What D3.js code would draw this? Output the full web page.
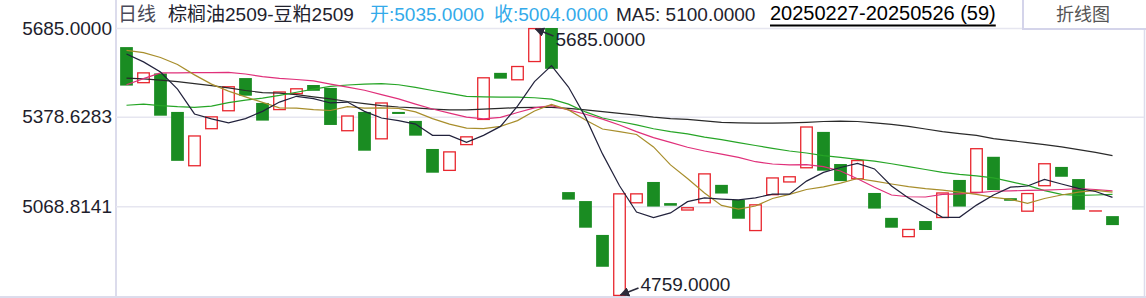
<!DOCTYPE html>
<html>
<head>
<meta charset="utf-8">
<script src="https://cdn.jsdelivr.net/npm/d3@7"></script>
<style>
  body { margin: 0; background: #fff; }
  svg { display: block; font-family: 'Liberation Sans', Arial, 'Noto Sans CJK SC', sans-serif; }
</style>
</head>
<body>
<svg id="chart" width="1146" height="298"></svg>
<script>
// daily candles, 20250227-20250526 (59 bars), body only (open / close)
const opens = [5619,5494,5528,5395,5207,5335,5397,5512,5426,5401,
  5456,5488,5478,5328,5395,5300,5395,5364,5267,5191,
  5280,5367,5530,5504,5567,5685,5118,5087,4970,4759,
  5079,5153,5080,5054,5079,5143,5091,4983,5107,5151,
  5200,5326,5215,5162,5115,5029,4962,5018,5028,5160,
  5115,5240,5097,5050,5138,5205,5163,5055,5035];
const closes = [5486,5532,5382,5226,5314,5380,5484,5451,5365,5466,
  5477,5468,5350,5383,5261,5428,5388,5313,5185,5259,
  5311,5515,5510,5554,5685,5544,5092,4995,4860,5114,
  5114,5068,5071,5066,5183,5113,5026,5076,5169,5173,
  5345,5192,5156,5229,5061,4995,4991,4987,5117,5068,
  5270,5125,5088,5115,5218,5171,5057,5055,5004];

// moving averages
const ma5 = [5595,5568,5533,5474,5388,5371,5357,5372,5397,5429,
  5449,5441,5426,5429,5397,5374,5365,5353,5314,5314,
  5290,5314,5345,5415,5500,5555,5481,5377,5250,5140,
  5049,5030,5046,5085,5098,5094,5091,5098,5111,5111,
  5156,5186,5203,5217,5198,5139,5098,5065,5031,5031,
  5073,5108,5135,5139,5162,5146,5131,5120,5100];
const ma10 = [5608,5600,5583,5559,5523,5491,5467,5447,5428,5409,
  5408,5403,5400,5413,5408,5409,5407,5395,5372,5353,
  5339,5337,5345,5365,5398,5421,5402,5367,5336,5327,
  5317,5274,5212,5165,5115,5072,5059,5070,5096,5110,
  5127,5136,5149,5165,5156,5146,5137,5130,5125,5118,
  5110,5100,5093,5079,5096,5108,5118,5124,5118];
const ma20 = [5489,5510,5530,5530,5531,5531,5532,5526,5517,5511,
  5507,5502,5491,5481,5470,5455,5440,5422,5405,5391,
  5377,5371,5376,5393,5409,5417,5402,5387,5370,5350,
  5327,5306,5290,5273,5260,5249,5238,5223,5215,5212,
  5213,5206,5191,5164,5135,5108,5102,5101,5110,5112,
  5115,5121,5122,5124,5125,5127,5130,5127,5122];
const ma30 = [5418,5422,5417,5413,5411,5415,5427,5436,5443,5452,
  5463,5474,5483,5488,5491,5493,5489,5480,5469,5459,
  5449,5447,5446,5446,5444,5439,5422,5395,5374,5362,
  5350,5337,5327,5319,5308,5299,5289,5279,5269,5260,
  5253,5244,5238,5231,5225,5216,5206,5196,5186,5179,
  5174,5167,5154,5141,5123,5110,5107,5108,5110];
const ma60 = [5512,5509,5505,5500,5493,5486,5478,5469,5462,5460,
  5455,5447,5440,5431,5424,5417,5412,5409,5405,5402,
  5402,5405,5407,5410,5411,5411,5407,5402,5396,5390,
  5384,5377,5372,5369,5364,5359,5357,5356,5356,5357,
  5359,5362,5363,5362,5357,5352,5345,5336,5327,5320,
  5314,5303,5296,5289,5282,5274,5265,5255,5244];

const yTicks = [5685, 5378.6283, 5068.8141];
const headerTitle = '棕榈油2509-豆粕2509';
const headerOpen = '开:5035.0000';
const headerClose = '收:5004.0000';
const headerMA = 'MA5: 5100.0000';
const headerRange = '20250227-20250526 (59)';

const svg = d3.select('#chart');
const width = +svg.attr('width');
const height = +svg.attr('height');

const plot = { left: 116, right: 1144, top: 28, bottom: 296 };

// scales
const x = d3.scaleBand()
  .domain(d3.range(opens.length))
  .range([118, 1121])
  .paddingInner(0.25)
  .paddingOuter(0.125);
const y = d3.scaleLinear()
  .domain([4759, 5685])
  .range([plot.bottom, plot.top]);
const bw = x.bandwidth();
const cx = i => x(i) + bw / 2;

// frame
const frameColor = '#dcdcec';
svg.append('line').attr('x1', plot.left).attr('x2', plot.left)
  .attr('y1', 0).attr('y2', height)
  .attr('stroke', frameColor).attr('stroke-width', 2);
svg.append('line').attr('x1', 0).attr('x2', width)
  .attr('y1', plot.bottom + 1).attr('y2', plot.bottom + 1)
  .attr('stroke', frameColor).attr('stroke-width', 2);
svg.append('line').attr('x1', plot.right + 0.5).attr('x2', plot.right + 0.5)
  .attr('y1', plot.top).attr('y2', plot.bottom)
  .attr('stroke', frameColor).attr('stroke-width', 1.5);

// y axis + grid
const yAxisG = svg.append('g')
  .attr('transform', `translate(${plot.left},0)`)
  .call(d3.axisLeft(y)
    .tickValues(yTicks)
    .tickFormat(d3.format('.4f'))
    .tickSize(-(plot.right - plot.left))
    .tickPadding(4));
yAxisG.select('.domain').remove();
yAxisG.selectAll('.tick line').attr('stroke', '#e6e6f0').attr('stroke-width', 1.5);
yAxisG.selectAll('.tick text')
  .attr('fill', '#1e1e2c')
  .style('font-size', '19px');

// candles
const data = opens.map((o, i) => ({ i, open: o, close: closes[i] }));
const candles = svg.append('g');
candles.selectAll('rect.down').data(data.filter(d => d.close < d.open))
  .enter().append('rect')
    .attr('class', 'down')
    .attr('x', d => x(d.i))
    .attr('width', bw)
    .attr('y', d => y(d.open))
    .attr('height', d => y(d.close) - y(d.open))
    .attr('fill', '#1a8c22');
candles.selectAll('rect.up').data(data.filter(d => d.close >= d.open))
  .enter().append('rect')
    .attr('class', 'up')
    .attr('x', d => x(d.i) + 0.6)
    .attr('width', bw - 1.2)
    .attr('y', d => y(d.close) + 0.6)
    .attr('height', d => Math.max(y(d.open) - y(d.close) - 1.2, 0.1))
    .attr('fill', '#fff')
    .attr('stroke', '#e8262e')
    .attr('stroke-width', 1.3);

// MA lines
const line = d3.line().x((d, i) => cx(i)).y(d => y(d));
const maSeries = [
  { values: ma60, color: '#2a2a2a' },
  { values: ma30, color: '#26a526' },
  { values: ma20, color: '#e0307a' },
  { values: ma10, color: '#a88e2c' },
  { values: ma5, color: '#22223c' }
];
svg.append('g').selectAll('path').data(maSeries)
  .enter().append('path')
    .attr('d', d => line(d.values))
    .attr('fill', 'none')
    .attr('stroke', d => d.color)
    .attr('stroke-width', 1.2);

// high / low markers
svg.append('defs').append('marker')
  .attr('id', 'arrow')
  .attr('viewBox', '0 0 10 10')
  .attr('refX', 9).attr('refY', 5)
  .attr('markerWidth', 6).attr('markerHeight', 6)
  .attr('orient', 'auto')
  .append('path').attr('d', 'M0,0L10,5L0,10z').attr('fill', '#2a2a3a');

const highs = data.map(d => Math.max(d.open, d.close));
const lows = data.map(d => Math.min(d.open, d.close));
const hi = d3.maxIndex(highs);
const lo = d3.minIndex(lows);

const marks = svg.append('g').style('font-size', '19px').attr('fill', '#1e1e2c');
marks.append('line')
  .attr('x1', cx(hi) + 19).attr('y1', y(highs[hi]) + 8)
  .attr('x2', cx(hi) + 1).attr('y2', y(highs[hi]) + 1)
  .attr('stroke', '#2a2a3a').attr('stroke-width', 1.6)
  .attr('marker-end', 'url(#arrow)');
marks.append('text')
  .attr('x', cx(hi) + 21).attr('y', y(highs[hi]) + 18)
  .text(d3.format('.4f')(highs[hi]));
marks.append('line')
  .attr('x1', cx(lo) + 19).attr('y1', y(lows[lo]) - 8)
  .attr('x2', cx(lo) + 1).attr('y2', y(lows[lo]) - 1)
  .attr('stroke', '#2a2a3a').attr('stroke-width', 1.6)
  .attr('marker-end', 'url(#arrow)');
marks.append('text')
  .attr('x', cx(lo) + 21).attr('y', y(lows[lo]) - 5)
  .text(d3.format('.4f')(lows[lo]));

// header
const header = svg.append('g').style('font-size', '19px');
header.append('text').attr('x', 118).attr('y', 21).attr('fill', '#4a4a5a').text('日线');
header.append('text').attr('x', 168).attr('y', 21).attr('fill', '#22222e').text(headerTitle);
header.append('text').attr('x', 370).attr('y', 21).attr('fill', '#33aaea').text(headerOpen);
header.append('text').attr('x', 494).attr('y', 21).attr('fill', '#33aaea').text(headerClose);
header.append('text').attr('x', 616).attr('y', 21).attr('fill', '#22222e').text(headerMA);
const rangeText = header.append('text')
  .attr('x', 770).attr('y', 20)
  .attr('fill', '#000')
  .style('font-size', '20px')
  .text(headerRange);
const rb = rangeText.node().getBBox();
header.append('line')
  .attr('x1', rb.x).attr('x2', rb.x + rb.width)
  .attr('y1', 25.5).attr('y2', 25.5)
  .attr('stroke', '#000').attr('stroke-width', 2);

// line-chart toggle button
svg.append('rect')
  .attr('x', 1023).attr('y', -2)
  .attr('width', 130).attr('height', 31)
  .attr('fill', '#fff')
  .attr('stroke', '#d4d4ea').attr('stroke-width', 2);
svg.append('text')
  .attr('x', 1083).attr('y', 21)
  .attr('text-anchor', 'middle')
  .attr('fill', '#555')
  .style('font-size', '18px')
  .text('折线图');
</script>
</body>
</html>
